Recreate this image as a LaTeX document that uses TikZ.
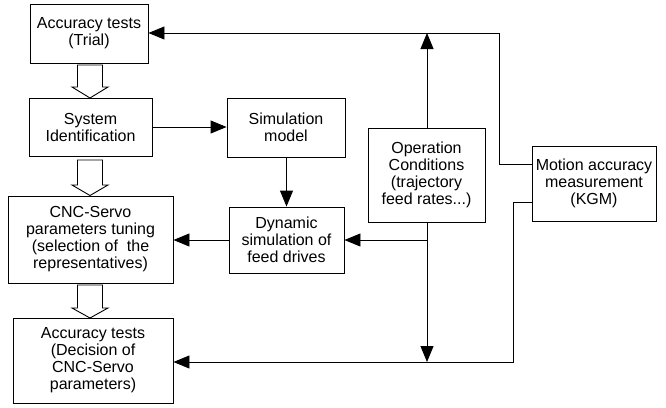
\documentclass[tikz,border=0pt]{standalone}
\usepackage{fontspec}
\setmainfont{Liberation Sans}
\usetikzlibrary{arrows.meta}
\begin{document}
\begin{tikzpicture}[x=1pt,y=-1pt,
  box/.style={draw,line width=0.9pt,align=center,inner sep=0pt,
    font=\fontsize{16}{17}\selectfont},
  conn/.style={line width=0.9pt},
  arr/.style={line width=0.9pt,-{Triangle[length=16pt,width=13pt]}},
  hollow/.style={draw,line width=0.9pt,fill=white}]
\useasboundingbox (0,0) rectangle (666,407);
\node[box,minimum width=118pt,minimum height=59pt] (b1) at (89,33.5) {Accuracy tests\\(Trial)};
\node[box,minimum width=123pt,minimum height=58pt] (b2) at (90.5,127) {System\\Identification};
\node[box,minimum width=118pt,minimum height=59pt] (b3) at (286,127.5) {Simulation\\model};
\node[box,minimum width=165pt,minimum height=87pt] (b4) at (90.5,239.5) {CNC-Servo\\parameters tuning\\(selection of\ \ the\\representatives)};
\node[box,minimum width=115pt,minimum height=66pt] (b5) at (286.5,240) {Dynamic\\simulation of\\feed drives};
\node[box,minimum width=117pt,minimum height=94pt] (b6) at (426.5,175) {Operation\\Conditions\\(trajectory\\feed rates...)};
\node[box,minimum width=124pt,minimum height=75pt] (b7) at (594,183.5) {Motion accuracy\\measurement\\(KGM)};
\node[box,minimum width=160pt,minimum height=85pt] (b8) at (93,360.5) {Accuracy tests\\(Decision of\\CNC-Servo\\parameters)};
% coordinates
\coordinate (fbx) at (499,33);
\coordinate (fbin) at (532,164);
\coordinate (top) at (427,33);
\coordinate (bot) at (427,362);
\coordinate (brn) at (427,240);
\coordinate (lbx) at (513,362);
\coordinate (lbin) at (532,202);
% feedback to trial
\draw[arr] (fbin) -- (fbin -| fbx) -- (fbx) -- (b1.east |- fbx);
% operation conditions up / down
\draw[arr] (b6.north -| top) -- (top);
\draw[arr] (b6.south -| bot) -- (bot);
\draw[arr] (brn) -- (b5.east |- brn);
% lower feedback to decision
\draw[arr] (lbin) -- (lbin -| lbx) -- (lbx) -- (b8.east |- lbx);
% sim chain
\draw[arr] (b2.east |- b2.center) -- (b3.west |- b2.center);
\draw[arr] (b3.south -| b5.north) -- (b5.north);
\draw[arr] (b5.west) -- (b4.east |- b5.west);
% hollow arrows
\foreach \a/\h/\t in {65/87/98, 160/185/195.5, 285/308/318}{
  \draw[hollow] (77.5,\a) -- (102.5,\a) -- (102.5,\h) -- (108,\h) -- (90,\t) -- (72,\h) -- (77.5,\h) -- cycle;
}
\end{tikzpicture}
\end{document}
